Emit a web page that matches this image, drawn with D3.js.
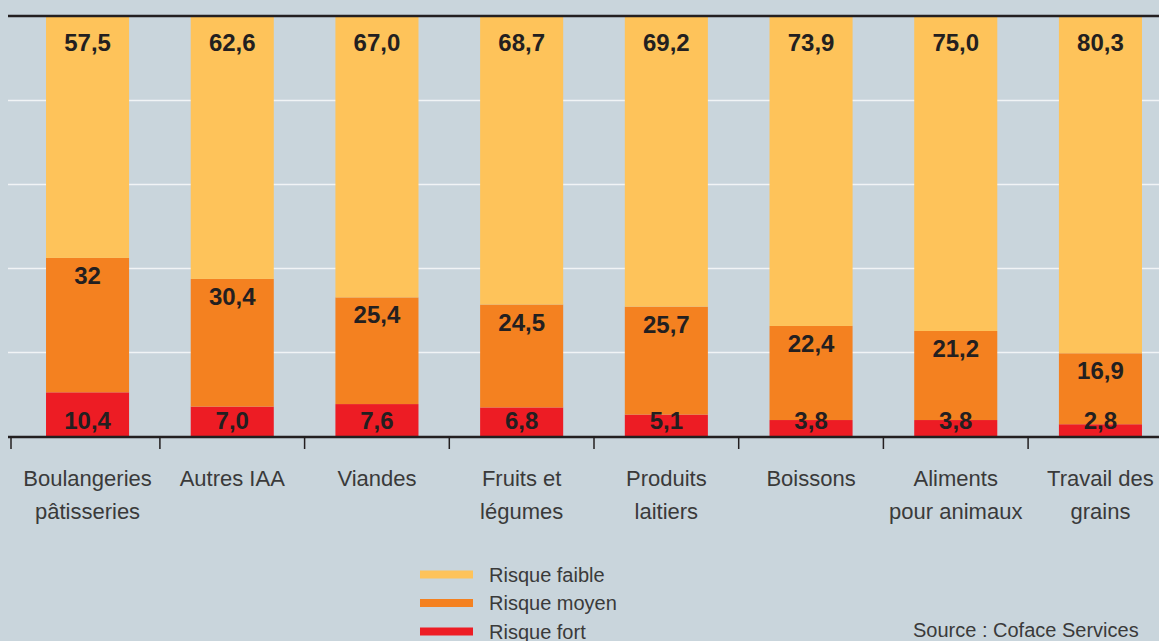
<!DOCTYPE html>
<html>
<head>
<meta charset="utf-8">
<script src="https://cdn.jsdelivr.net/npm/d3@7"></script>
<style>
  html, body { margin: 0; padding: 0; background: #c9d5dc; }
  svg { display: block; font-family: "Liberation Sans", Arial, sans-serif; }
  .grid line { stroke: #f1f4f6; stroke-width: 1.5; }
  .grid .domain { display: none; }
  .val { font-weight: bold; font-size: 24px; fill: #231f20; text-anchor: middle; }
  .cat { font-size: 22px; fill: #3a3a3a; text-anchor: middle; }
  .leg { font-size: 20px; fill: #3a3a3a; }
</style>
</head>
<body>
<svg id="chart" width="1159" height="641"></svg>
<script>
// categories (one array per label line)
const categories = [
  ['Boulangeries', 'pâtisseries'],
  ['Autres IAA'],
  ['Viandes'],
  ['Fruits et', 'légumes'],
  ['Produits', 'laitiers'],
  ['Boissons'],
  ['Aliments', 'pour animaux'],
  ['Travail des', 'grains']
];

// values as printed on the chart (%)
const risqueFort = ['10,4', '7,0', '7,6', '6,8', '5,1', '3,8', '3,8', '2,8'];
const risqueMoyen = ['32', '30,4', '25,4', '24,5', '25,7', '22,4', '21,2', '16,9'];
const risqueFaible = ['57,5', '62,6', '67,0', '68,7', '69,2', '73,9', '75,0', '80,3'];

const gridTicks = [20, 40, 60, 80];
const seriesNames = ['Risque faible', 'Risque moyen', 'Risque fort'];
const source = 'Source : Coface Services';

const colors = { fort: '#ed1c24', moyen: '#f48120', faible: '#fec35a' };
const num = s => +s.replace(',', '.');

const W = 1159, H = 641;
const plotLeft = 8, plotBase = 436, plotTop = 16;

const rows = categories.map((c, i) => ({
  key: c.join(' '),
  lines: c,
  fort: num(risqueFort[i]),
  moyen: num(risqueMoyen[i]),
  faible: num(risqueFaible[i]),
  labels: { fort: risqueFort[i], moyen: risqueMoyen[i], faible: risqueFaible[i] }
}));

const svg = d3.select('#chart');
svg.append('rect').attr('width', W).attr('height', H).attr('fill', '#c9d5dc');

const x = d3.scaleBand()
  .domain(rows.map(d => d.key))
  .range([15.2, 1172.8])
  .paddingInner(0.426)
  .paddingOuter(0.213);

const y = d3.scaleLinear().domain([0, 100]).range([plotBase, plotTop]);

// gridlines
svg.append('g')
  .attr('class', 'grid')
  .attr('transform', `translate(${plotLeft},0)`)
  .call(d3.axisRight(y).tickValues(gridTicks).tickSize(W - plotLeft).tickFormat(''));

// stacked bars
const stack = d3.stack().keys(['fort', 'moyen', 'faible'])(rows);

svg.append('g')
  .selectAll('g')
  .data(stack)
  .join('g')
  .attr('fill', s => colors[s.key])
  .selectAll('rect')
  .data(s => s)
  .join('rect')
  .attr('x', d => x(d.data.key))
  .attr('width', x.bandwidth())
  .attr('y', d => y(d[1]))
  .attr('height', d => y(d[0]) - y(d[1]));

// value labels, drawn above all bars
const labelY = {
  fort: d => y(0) - 7,
  moyen: d => y(d[1]) + 26,
  faible: d => y(100) + 35
};

svg.append('g')
  .selectAll('text')
  .data(stack.flatMap(s => s.map(d => ({ d, key: s.key }))))
  .join('text')
  .attr('class', 'val')
  .attr('x', o => x(o.d.data.key) + x.bandwidth() / 2)
  .attr('y', o => labelY[o.key](o.d))
  .text(o => o.d.data.labels[o.key]);

// top and bottom frame lines
svg.append('line')
  .attr('x1', plotLeft).attr('x2', W)
  .attr('y1', y(100)).attr('y2', y(100))
  .attr('stroke', '#231f20').attr('stroke-width', 2.5);

svg.append('line')
  .attr('x1', plotLeft).attr('x2', W)
  .attr('y1', y(0) + 1).attr('y2', y(0) + 1)
  .attr('stroke', '#231f20').attr('stroke-width', 2.5);

// ticks between categories
const gap = (x.step() - x.bandwidth()) / 2;
svg.append('g')
  .selectAll('line')
  .data(rows)
  .join('line')
  .attr('x1', (d, i) => i ? x(d.key) - gap : plotLeft + 3)
  .attr('x2', (d, i) => i ? x(d.key) - gap : plotLeft + 3)
  .attr('y1', y(0))
  .attr('y2', y(0) + 13)
  .attr('stroke', '#231f20')
  .attr('stroke-width', 1.5);

// category labels
const cats = svg.append('g')
  .selectAll('text')
  .data(rows)
  .join('text')
  .attr('class', 'cat')
  .attr('x', d => x(d.key) + x.bandwidth() / 2)
  .attr('y', 486);

cats.selectAll('tspan')
  .data(d => d.lines.map(l => ({ l, cx: x(d.key) + x.bandwidth() / 2 })))
  .join('tspan')
  .attr('x', d => d.cx)
  .attr('dy', (d, i) => i ? 33 : 0)
  .text(d => d.l);

// legend
const legendColors = [colors.faible, colors.moyen, colors.fort];
const leg = svg.append('g')
  .selectAll('g')
  .data(seriesNames)
  .join('g')
  .attr('transform', (d, i) => `translate(420,${574.5 + i * 28.5})`);

leg.append('rect')
  .attr('y', -4)
  .attr('width', 53)
  .attr('height', 8)
  .attr('fill', (d, i) => legendColors[i]);

leg.append('text')
  .attr('class', 'leg')
  .attr('x', 69)
  .attr('y', 7)
  .text(d => d);

svg.append('text')
  .attr('class', 'leg')
  .attr('x', 913)
  .attr('y', 637)
  .text(source);
</script>
</body>
</html>
